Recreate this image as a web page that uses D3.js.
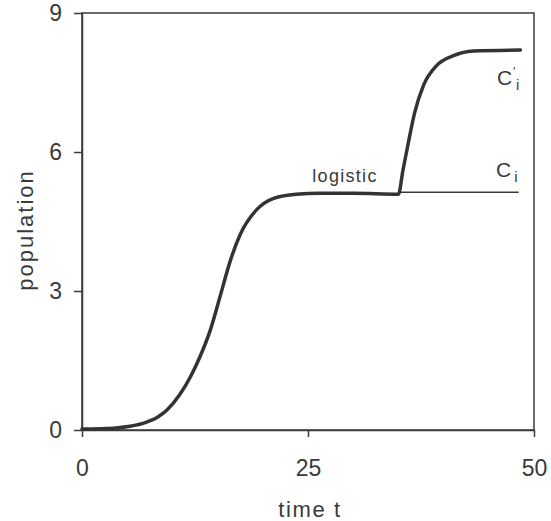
<!DOCTYPE html>
<html>
<head>
<meta charset="utf-8">
<script src="https://cdn.jsdelivr.net/npm/d3@7"></script>
<style>
  html, body { margin: 0; padding: 0; background: #fff; }
  svg { display: block; font-family: "Liberation Sans", Arial, Helvetica, sans-serif; }
  .axis text { fill: #3a3a3a; font-size: 23px; }
  .axis path, .axis line { stroke: #3a3a3a; stroke-width: 1.5; }
  .lbl { fill: #3a3a3a; }
</style>
</head>
<body>
<div id="chart"></div>
<script>
(function () {
  // ---------- Data ----------
  // population curve: logistic growth, then a second rise to the new level C'i
  const timeT = [0, 3.5, 5.3, 7, 8.3, 9.4, 10.8, 12.0, 13.05, 14.2, 15.3, 16.4, 17.5, 19.3, 21.2, 23.7, 26.3,
                 30, 35.0, 35.5, 36.1, 36.8, 37.8, 39.2, 41.1, 43.3, 48.5];
  const population = [0.02, 0.04, 0.08, 0.16, 0.27, 0.43, 0.76, 1.15, 1.58, 2.16, 2.9, 3.65, 4.22, 4.75, 5.0, 5.09, 5.11,
                      5.11, 5.09, 5.6, 6.2, 6.85, 7.45, 7.86, 8.08, 8.18, 8.2];
  // old capacity level Ci, carried on after the jump
  const capT = [35.0, 48.3];
  const capV = [5.13, 5.13];

  const xTicks = [0, 25, 50];
  const yTicks = [0, 3, 6, 9];

  // ---------- Layout ----------
  const W = 551, H = 521;
  const m = { top: 13, right: 17, bottom: 91, left: 82 };

  const svg = d3.select('#chart').append('svg')
    .attr('width', W).attr('height', H);

  const x = d3.scaleLinear().domain([0, 50]).range([m.left, W - m.right]);
  const y = d3.scaleLinear().domain([0, 9]).range([H - m.bottom, m.top]);

  // frame (top + right sides)
  svg.append('rect')
    .attr('x', x(0)).attr('y', y(9))
    .attr('width', x(50) - x(0)).attr('height', y(0) - y(9))
    .attr('fill', 'none').attr('stroke', '#3a3a3a').attr('stroke-width', 1.5);

  // ---------- Axes ----------
  svg.append('g').attr('class', 'axis')
    .attr('transform', `translate(0,${y(0)})`)
    .call(d3.axisBottom(x).tickValues(xTicks).tickSizeInner(7).tickSizeOuter(0).tickPadding(23));

  svg.append('g').attr('class', 'axis')
    .attr('transform', `translate(${x(0)},0)`)
    .call(d3.axisLeft(y).tickValues(yTicks).tickSizeInner(8).tickSizeOuter(0).tickPadding(12));

  // ---------- Lines ----------
  const line = d3.line()
    .x(d => x(d[0]))
    .y(d => y(d[1]))
    .curve(d3.curveMonotoneX);

  svg.append('path')
    .datum(d3.zip(capT, capV))
    .attr('d', line)
    .attr('fill', 'none').attr('stroke', '#3a3a3a').attr('stroke-width', 1.5);

  svg.append('path')
    .datum(d3.zip(timeT, population))
    .attr('d', line)
    .attr('fill', 'none').attr('stroke', '#333').attr('stroke-width', 3.5)
    .attr('stroke-linejoin', 'round').attr('stroke-linecap', 'round');

  // ---------- Labels ----------
  svg.append('text').attr('class', 'lbl')
    .attr('x', 310).attr('y', 517)
    .attr('text-anchor', 'middle')
    .style('font-size', '22px').style('letter-spacing', '1.6px')
    .text('time t');

  svg.append('text').attr('class', 'lbl')
    .attr('transform', 'translate(33,230) rotate(-90)')
    .attr('text-anchor', 'middle')
    .style('font-size', '22px').style('letter-spacing', '2px')
    .text('population');

  svg.append('text').attr('class', 'lbl')
    .attr('x', 345).attr('y', 182)
    .attr('text-anchor', 'middle')
    .style('font-size', '18px').style('letter-spacing', '1.3px')
    .text('logistic');

  // Ci
  const ci = svg.append('text').attr('class', 'lbl')
    .attr('x', 496).attr('y', 177).style('font-size', '21px');
  ci.append('tspan').text('C');
  ci.append('tspan').attr('dx', 3).attr('dy', 5).style('font-size', '15px').text('i');

  // C'i
  svg.append('text').attr('class', 'lbl')
    .attr('x', 497).attr('y', 85).style('font-size', '21px')
    .text('C');
  svg.append('text').attr('class', 'lbl')
    .attr('x', 513).attr('y', 76).style('font-size', '12px')
    .text('\u2032');
  svg.append('text').attr('class', 'lbl')
    .attr('x', 516).attr('y', 90).style('font-size', '15px')
    .text('i');
})();
</script>
</body>
</html>
